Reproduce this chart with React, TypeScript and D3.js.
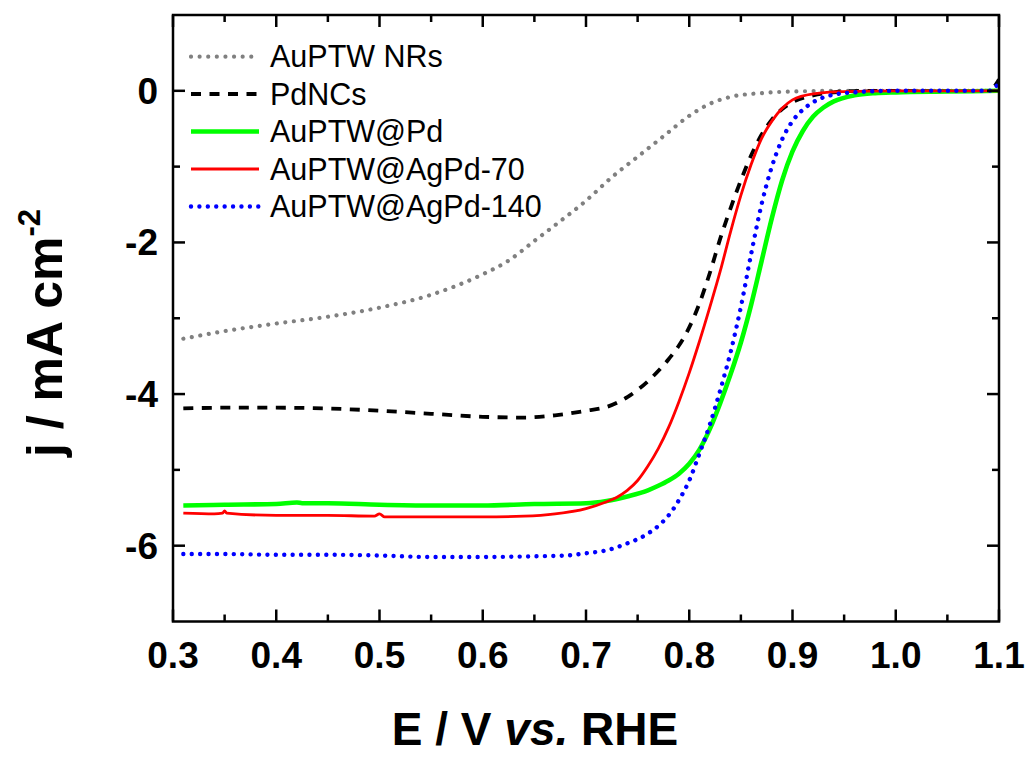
import React from "react";
import * as d3 from "d3";

// ---- Data (E / V vs RHE, j / mA cm^-2) ----
const nrsE = [0.31, 0.35, 0.40, 0.45, 0.50, 0.55, 0.60, 0.625, 0.65, 0.675, 0.70, 0.725, 0.75, 0.775, 0.80, 0.82, 0.84, 0.87, 0.90, 0.95, 1.0, 1.05, 1.1];
const nrsJ = [-3.27, -3.17, -3.07, -2.98, -2.86, -2.69, -2.42, -2.24, -1.98, -1.72, -1.45, -1.14, -0.87, -0.60, -0.33, -0.17, -0.08, -0.03, -0.01, 0, 0, 0, 0];

const pdE = [0.31, 0.35, 0.40, 0.45, 0.50, 0.55, 0.60, 0.64, 0.67, 0.70, 0.72, 0.74, 0.76, 0.78, 0.79, 0.80, 0.81, 0.82, 0.83, 0.84, 0.85, 0.86, 0.87, 0.88, 0.89, 0.90, 0.92, 0.94, 0.97, 1.0, 1.05, 1.09, 1.1];
const pdJ = [-4.19, -4.18, -4.18, -4.19, -4.22, -4.26, -4.30, -4.31, -4.28, -4.22, -4.17, -4.04, -3.83, -3.54, -3.36, -3.12, -2.80, -2.40, -1.95, -1.55, -1.18, -0.85, -0.58, -0.38, -0.24, -0.15, -0.06, -0.02, 0, 0, 0, 0, 0.15];

const pdAuE = [0.31, 0.35, 0.40, 0.42, 0.425, 0.45, 0.50, 0.55, 0.60, 0.65, 0.70, 0.72, 0.74, 0.76, 0.77, 0.78, 0.79, 0.80, 0.81, 0.82, 0.83, 0.84, 0.85, 0.86, 0.87, 0.88, 0.89, 0.90, 0.91, 0.92, 0.93, 0.94, 0.96, 0.98, 1.0, 1.05, 1.1];
const pdAuJ = [-5.47, -5.46, -5.45, -5.43, -5.44, -5.44, -5.46, -5.47, -5.47, -5.45, -5.44, -5.41, -5.35, -5.27, -5.21, -5.14, -5.05, -4.92, -4.73, -4.46, -4.12, -3.74, -3.32, -2.82, -2.25, -1.68, -1.18, -0.80, -0.53, -0.34, -0.22, -0.14, -0.06, -0.03, -0.02, -0.01, 0];

const ag70E = [0.31, 0.34, 0.348, 0.35, 0.352, 0.40, 0.45, 0.495, 0.50, 0.505, 0.55, 0.60, 0.64, 0.67, 0.70, 0.72, 0.73, 0.74, 0.75, 0.76, 0.77, 0.78, 0.79, 0.80, 0.81, 0.82, 0.83, 0.84, 0.85, 0.86, 0.87, 0.88, 0.89, 0.90, 0.92, 0.95, 1.0, 1.1];
const ag70J = [-5.57, -5.58, -5.57, -5.54, -5.57, -5.60, -5.60, -5.61, -5.58, -5.62, -5.62, -5.62, -5.61, -5.58, -5.51, -5.42, -5.36, -5.27, -5.14, -4.95, -4.72, -4.44, -4.10, -3.72, -3.30, -2.85, -2.38, -1.86, -1.38, -0.97, -0.63, -0.40, -0.23, -0.12, -0.04, -0.01, 0, 0];

const ag140E = [0.31, 0.35, 0.40, 0.45, 0.50, 0.55, 0.60, 0.65, 0.68, 0.70, 0.72, 0.74, 0.76, 0.77, 0.78, 0.79, 0.80, 0.81, 0.82, 0.83, 0.84, 0.85, 0.86, 0.87, 0.88, 0.89, 0.90, 0.91, 0.92, 0.94, 0.96, 1.0, 1.09, 1.1];
const ag140J = [-6.11, -6.11, -6.12, -6.12, -6.13, -6.15, -6.15, -6.14, -6.13, -6.10, -6.06, -5.97, -5.84, -5.74, -5.60, -5.40, -5.14, -4.78, -4.40, -3.95, -3.45, -2.85, -2.15, -1.50, -1.00, -0.64, -0.40, -0.25, -0.15, -0.05, -0.02, 0, 0, 0.1];

const seriesNames = ["AuPTW NRs", "PdNCs", "AuPTW@Pd", "AuPTW@AgPd-70", "AuPTW@AgPd-140"];
const xTicks = [0.3, 0.4, 0.5, 0.6, 0.7, 0.8, 0.9, 1.0, 1.1];
const yTicks = [0, -2, -4, -6];

const W = 1026, H = 758;
const L = 173, R = 999, T = 15, B = 621.5;

export default function App() {
  const x = d3.scaleLinear().domain([0.3, 1.1]).range([L, R]);
  const y = d3.scaleLinear().domain([-7, 1]).range([B, T]);
  const line = d3.line<[number, number]>().x(d => x(d[0])).y(d => y(d[1])).curve(d3.curveMonotoneX);
  const zip = (a: number[], b: number[]) => a.map((v, i) => [v, b[i]] as [number, number]);

  const styles = [
    { data: zip(nrsE, nrsJ), stroke: "#808080", width: 4.2, dash: "0.01 8.6", cap: "round" },
    { data: zip(pdE, pdJ), stroke: "#000000", width: 3.8, dash: "10 8.5", cap: "butt" },
    { data: zip(pdAuE, pdAuJ), stroke: "#00ff00", width: 4.6, dash: "", cap: "butt" },
    { data: zip(ag70E, ag70J), stroke: "#ff0000", width: 2.8, dash: "", cap: "butt" },
    { data: zip(ag140E, ag140J), stroke: "#0000ff", width: 4.4, dash: "0.01 8.4", cap: "round" },
  ];

  const minorX = d3.range(0.35, 1.1, 0.1);
  const minorY = [-1, -3, -5];

  const font = "'Liberation Sans', Arial, sans-serif";
  const legendY = [56.7, 94, 131.5, 169, 206.5];

  return (
    <svg width={W} height={H} style={{ position: "absolute", left: 0, top: 0, background: "#fff" }} fontFamily={font}>
      <rect x={0} y={0} width={W} height={H} fill="#fff" />
      <defs>
        <clipPath id="plot">
          <rect x={L} y={T} width={R - L} height={B - T} />
        </clipPath>
      </defs>
      <g clipPath="url(#plot)">
        {styles.map((s, i) => (
          <path key={i} d={line(s.data) || ""} fill="none" stroke={s.stroke} strokeWidth={s.width}
            strokeDasharray={s.dash || undefined} strokeLinecap={s.cap as any} strokeLinejoin="round" />
        ))}
      </g>
      {/* frame */}
      <rect x={L} y={T} width={R - L} height={B - T} fill="none" stroke="#000" strokeWidth={2.5} />
      {/* x ticks */}
      {xTicks.map(v => (
        <g key={"xt" + v}>
          <line x1={x(v)} x2={x(v)} y1={B} y2={B - 12} stroke="#000" strokeWidth={2.5} />
          <line x1={x(v)} x2={x(v)} y1={T} y2={T + 12} stroke="#000" strokeWidth={2.5} />
          <text x={x(v)} y={668} textAnchor="middle" fontSize={37} fontWeight="bold">{v.toFixed(1)}</text>
        </g>
      ))}
      {minorX.map(v => (
        <g key={"xm" + v}>
          <line x1={x(v)} x2={x(v)} y1={B} y2={B - 7} stroke="#000" strokeWidth={2.5} />
          <line x1={x(v)} x2={x(v)} y1={T} y2={T + 7} stroke="#000" strokeWidth={2.5} />
        </g>
      ))}
      {yTicks.map(v => (
        <g key={"yt" + v}>
          <line x1={L} x2={L + 12} y1={y(v)} y2={y(v)} stroke="#000" strokeWidth={2.5} />
          <line x1={R} x2={R - 12} y1={y(v)} y2={y(v)} stroke="#000" strokeWidth={2.5} />
          <text x={158} y={y(v) + 13} textAnchor="end" fontSize={37} fontWeight="bold">{v === 0 ? "0" : "-" + Math.abs(v)}</text>
        </g>
      ))}
      {minorY.map(v => (
        <g key={"ym" + v}>
          <line x1={L} x2={L + 7} y1={y(v)} y2={y(v)} stroke="#000" strokeWidth={2.5} />
          <line x1={R} x2={R - 7} y1={y(v)} y2={y(v)} stroke="#000" strokeWidth={2.5} />
        </g>
      ))}
      {/* legend */}
      {seriesNames.map((name, i) => {
        const s = styles[i];
        return (
          <g key={name}>
            <line x1={191} x2={259} y1={legendY[i]} y2={legendY[i]} stroke={s.stroke} strokeWidth={s.width}
              strokeDasharray={s.dash || undefined} strokeLinecap={s.cap as any} />
            <text x={270} y={legendY[i] + 10.5} fontSize={30.5}>{name}</text>
          </g>
        );
      })}
      {/* axis titles */}
      <text transform={`translate(62, 333) rotate(-90)`} textAnchor="middle" fontSize={50} fontWeight="bold">
        j / mA cm<tspan fontSize={31} dy={-22}>-2</tspan>
      </text>
      <text x={535} y={745} textAnchor="middle" fontSize={46} fontWeight="bold">
        E / V <tspan fontStyle="italic">vs.</tspan> RHE
      </text>
    </svg>
  );
}
